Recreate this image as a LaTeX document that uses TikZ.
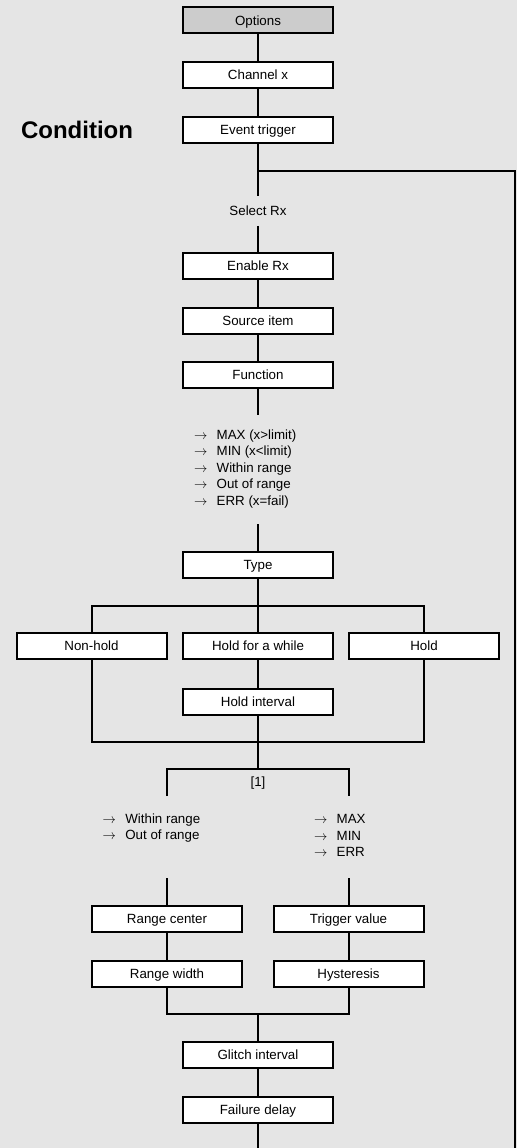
\documentclass[tikz,border=0pt]{standalone}
\usepackage{fontspec}
\setmainfont{Liberation Sans}
\begin{document}
\begin{tikzpicture}[x=0.75pt,y=-0.75pt,line width=1.5pt,
  box/.style={draw=black,fill=white,minimum width=112.5pt,minimum height=19.5pt,inner sep=0pt,text height=9pt,text depth=2pt,font=\fontsize{10}{12}\selectfont},
  optbox/.style={box,fill=optgray},
  lbl/.style={inner sep=0pt,text height=9pt,text depth=2pt,font=\fontsize{10}{12}\selectfont},
  lst/.style={inner sep=0pt,align=left,anchor=west,font=\fontsize{10}{12.4}\selectfont},
  title/.style={inner sep=0pt,font=\fontsize{18}{21}\selectfont\bfseries}]
\definecolor{bggray}{HTML}{E5E5E5}
\definecolor{optgray}{HTML}{CCCCCC}
\newcommand{\arr}{\makebox[17pt][l]{$\rightarrow$}}
\useasboundingbox (0,0) rectangle (517,1148);
\fill[bggray] (0,0) rectangle (517,1148);

% nodes
\node[optbox] (opt) at (258,20.5) {Options};
\node[box] (ch) at (258,75) {Channel x};
\node[box] (ev) at (258,130) {Event trigger};
\node[title] (cond) at (77,130) {Condition};
\node[lbl,minimum height=21pt] (sel) at (258,211) {Select Rx};
\node[box] (en) at (258,265.5) {Enable Rx};
\node[box] (src) at (258,320.5) {Source item};
\node[box] (fun) at (258,374.5) {Function};
\node[lst] (flist) at (193,469) {\arr MAX (x>limit)\\\arr MIN (x<limit)\\\arr Within range\\\arr Out of range\\\arr ERR (x=fail)};
\node[box] (type) at (258,565) {Type};
\node[box] (nh) at (91.5,646) {Non-hold};
\node[box] (hw) at (258,646) {Hold for a while};
\node[box] (hd) at (424,646) {Hold};
\node[box] (hi) at (258,701.5) {Hold interval};
\node[lbl] (one) at (258,782) {[1]};
\node[lst] (llist) at (101.7,828) {\arr Within range\\\arr Out of range};
\node[lst] (rlist) at (313,835.5) {\arr MAX\\\arr MIN\\\arr ERR};
\node[box] (rc) at (167,918.5) {Range center};
\node[box] (tv) at (348.5,918.5) {Trigger value};
\node[box] (rw) at (167,973.5) {Range width};
\node[box] (hy) at (348.5,973.5) {Hysteresis};
\node[box] (gl) at (258,1054.5) {Glitch interval};
\node[box] (fd) at (258,1109.5) {Failure delay};

% free ends
\coordinate (j1) at (258,171);
\coordinate (j2) at (515,171);
\coordinate (j3) at (515,1148);
\coordinate (f1) at (258,415);
\coordinate (f2) at (258,524);
\coordinate (b1) at (258,606);
\coordinate (b2) at (258,742);
\coordinate (b3) at (258,769);
\coordinate (l1) at (167,796);
\coordinate (r1) at (348.5,796);
\coordinate (l2) at (167,878);
\coordinate (r2) at (348.5,878);
\coordinate (b4) at (258,1014);
\coordinate (b5) at (258,1148);

% connectors
\draw (opt) -- (ch);
\draw (ch) -- (ev);
\draw (ev) -- (sel);
\draw (j1) -- (j2) -- (j3);
\draw (sel) -- (en);
\draw (en) -- (src);
\draw (src) -- (fun);
\draw (fun) -- (f1);
\draw (f2) -- (type);
\draw (type) -- (hw);
\draw (nh) |- (b1) -| (hd);
\draw (hw) -- (hi);
\draw (nh) |- (b2) -| (hd);
\draw (hi) -- (b3);
\draw (l1) |- (b3) -| (r1);
\draw (l2) -- (rc);
\draw (r2) -- (tv);
\draw (rc) -- (rw);
\draw (tv) -- (hy);
\draw (rw) |- (b4) -| (hy);
\draw (b4) -- (gl);
\draw (gl) -- (fd);
\draw (fd) -- (b5);
\end{tikzpicture}
\end{document}
